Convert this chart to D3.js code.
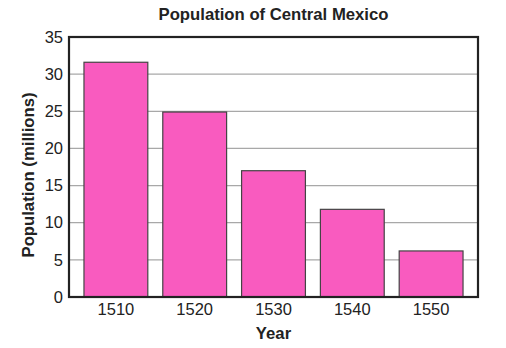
<!DOCTYPE html>
<html>
<head>
<meta charset="utf-8">
<script src="https://cdn.jsdelivr.net/npm/d3@7"></script>
<style>
  body { margin: 0; background: #fff; }
  text { font-family: "Liberation Sans", Arial, sans-serif; fill: #222; }
</style>
</head>
<body>
<svg id="chart" width="506" height="348"></svg>
<script>
// chart data
const years = ['1510', '1520', '1530', '1540', '1550'];
const population = [31.6, 24.9, 17.0, 11.8, 6.2];
const yTicks = [0, 5, 10, 15, 20, 25, 30, 35];

const svg = d3.select('#chart'),
    margin = { top: 37, right: 28, bottom: 51, left: 69 },
    width = +svg.attr('width'),
    height = +svg.attr('height');

const x = d3.scaleBand()
    .domain(years)
    .range([margin.left, width - margin.right])
    .paddingInner(0.19)
    .paddingOuter(0.19);

const y = d3.scaleLinear()
    .domain([0, 35])
    .range([height - margin.bottom, margin.top]);

// gridlines
svg.append('g')
    .selectAll('line')
    .data(yTicks.slice(1, -1))
    .enter().append('line')
    .attr('x1', margin.left)
    .attr('x2', width - margin.right)
    .attr('y1', d => y(d))
    .attr('y2', d => y(d))
    .attr('stroke', '#a8a8a8')
    .attr('stroke-width', 1.2);

// bars
svg.selectAll('.bar')
    .data(population)
    .enter().append('rect')
    .attr('class', 'bar')
    .attr('x', (d, i) => x(years[i]))
    .attr('width', x.bandwidth())
    .attr('y', d => y(d))
    .attr('height', d => y(0) - y(d))
    .attr('fill', '#f95bbf')
    .attr('stroke', '#444')
    .attr('stroke-width', 1.2);

// frame
svg.append('rect')
    .attr('x', margin.left)
    .attr('y', margin.top)
    .attr('width', width - margin.left - margin.right)
    .attr('height', height - margin.top - margin.bottom)
    .attr('fill', 'none')
    .attr('stroke', '#222')
    .attr('stroke-width', 2.2);

// y axis
const yAxis = svg.append('g')
    .attr('transform', `translate(${margin.left},0)`)
    .call(d3.axisLeft(y).tickValues(yTicks).tickSize(0).tickPadding(6));
yAxis.select('.domain').remove();
yAxis.selectAll('text').style('font-size', '16.5px');

// x axis
const xAxis = svg.append('g')
    .attr('transform', `translate(0,${height - margin.bottom})`)
    .call(d3.axisBottom(x).tickSize(0).tickPadding(6));
xAxis.select('.domain').remove();
xAxis.selectAll('text').style('font-size', '16.5px');

// title
svg.append('text')
    .attr('x', (margin.left + width - margin.right) / 2)
    .attr('y', 20)
    .attr('text-anchor', 'middle')
    .style('font-size', '16.7px')
    .style('font-weight', 'bold')
    .text('Population of Central Mexico');

// axis labels
svg.append('text')
    .attr('x', (margin.left + width - margin.right) / 2)
    .attr('y', 339)
    .attr('text-anchor', 'middle')
    .style('font-size', '16.7px')
    .style('font-weight', 'bold')
    .text('Year');

svg.append('text')
    .attr('transform', 'translate(34,175) rotate(-90)')
    .attr('text-anchor', 'middle')
    .style('font-size', '16.7px')
    .style('font-weight', 'bold')
    .text('Population (millions)');
</script>
</body>
</html>
